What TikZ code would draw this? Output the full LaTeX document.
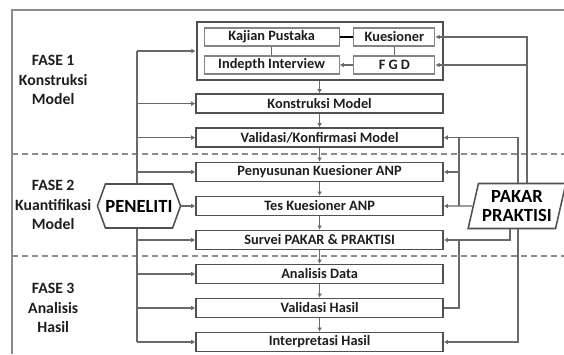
\documentclass[tikz,border=0pt]{standalone}
\usepackage{fontspec}
\setmainfont{Carlito}
\usepackage{tikz}
\usetikzlibrary{arrows.meta,shapes.geometric,shapes.symbols}
\definecolor{framec}{RGB}{140,140,140}
\definecolor{linec}{RGB}{105,105,105}
\definecolor{boxc}{RGB}{80,80,80}
\definecolor{textc}{RGB}{30,30,30}

\begin{document}
\begin{tikzpicture}[x=1cm,y=1cm,font=\fontsize{10.2}{12}\selectfont\bfseries,
    stepbox/.style={draw=boxc,line width=1.1pt,fill=white,text=textc,minimum width=6.17cm,minimum height=0.475cm,inner sep=0pt},
    subbox/.style={draw=boxc!70,line width=0.8pt,fill=white,text=textc,minimum height=0.45cm,inner sep=0pt},
    phase/.style={text=textc,align=center,font=\fontsize{11.2}{13.9}\selectfont\bfseries},
    conn/.style={linec,line width=1pt},
    arr/.style={conn,-{Latex[length=3pt,width=3.4pt]}}]
  \useasboundingbox (0,0) rectangle (14.1,8.85);
  % ---- frame + phase borders ----
  \draw[framec,line width=1.4pt] (0.3,0) -- (0.3,8.6) -- (14.1,8.6);
  \draw[framec,line width=1.4pt,dash pattern=on 4.3pt off 2.8pt]
      (0.3,5.0) -- (14.1,5.0)  (0.3,2.45) -- (14.1,2.45);
  % ---- phase labels ----
  \node[phase] (fase1) at (1.33,6.85) {FASE 1\\Konstruksi\\Model};
  \node[phase] (fase2) at (1.33,3.725) {FASE 2\\Kuantifikasi\\Model};
  \node[phase] (fase3) at (1.33,1.15) {FASE 3\\Analisis\\Hasil};
  % ---- model construction group ----
  \node[draw=boxc,line width=1.3pt,fill=white,minimum width=6.15cm,minimum height=1.45cm] (grp) at (7.99,7.575) {};
  \node[subbox,minimum width=3.375cm] (kajian) at (6.79,7.925) {Kajian Pustaka};
  \node[subbox,minimum width=2.025cm] (kues) at (9.86,7.925) {Kuesioner};
  \node[subbox,minimum width=3.375cm] (indepth) at (6.79,7.225) {Indepth Interview};
  \node[subbox,minimum width=2.025cm] (fgd) at (9.86,7.225) {F G D};
  \draw[black,line width=2pt] (kajian) -- (kues);
  \draw[conn,line width=0.6pt] (kajian) -- (indepth);
  \draw[conn,line width=0.6pt] (kues) -- (fgd);
  \draw[arr] (fgd) -- (indepth);
  % ---- steps ----
  \node[stepbox] (konst) at (7.99,6.26) {Konstruksi Model};
  \node[stepbox] (valk) at (7.99,5.41) {Validasi/Konfirmasi Model};
  \node[stepbox] (peny) at (7.99,4.55) {Penyusunan Kuesioner ANP};
  \node[stepbox] (tes) at (7.99,3.70) {Tes Kuesioner ANP};
  \node[stepbox] (survei) at (7.99,2.85) {Survei PAKAR \& PRAKTISI};
  \node[stepbox] (anal) at (7.99,2.00) {Analisis Data};
  \node[stepbox] (valh) at (7.99,1.15) {Validasi Hasil};
  \node[stepbox] (interp) at (7.99,0.30) {Interpretasi Hasil};
  \foreach \a/\b in {grp/konst,konst/valk,valk/peny,peny/tes,tes/survei,survei/anal,anal/valh,valh/interp}
    \draw[arr] (\a) -- (\b);
  % ---- researcher ----
  \coordinate (sp) at (3.425,0);
  \draw[conn] (grp.west -| sp) -- (interp.west -| sp);
  \foreach \b in {grp,konst,valk,peny,tes,survei,anal,valh,interp}
    \draw[arr] (\b.west -| sp) -- (\b.west);
  \node[signal,signal to=east and west,signal pointer angle=140,draw=boxc,line width=1.1pt,fill=white,
        minimum width=1.95cm,minimum height=1.1cm,inner sep=0pt,font=\fontsize{13.2}{14}\selectfont\bfseries]
      (peneliti) at (3.475,3.7) {PENELITI};
  % ---- experts & practitioners ----
  \node[trapezium,trapezium left angle=73,trapezium right angle=107,trapezium stretches=true,
        draw=boxc,line width=1.1pt,fill=white,minimum width=2.45cm,minimum height=1.125cm,inner sep=0pt,
        align=center,font=\fontsize{13.2}{13}\selectfont\bfseries] (pakar) at (12.925,3.7) {PAKAR\\PRAKTISI};
  \coordinate (ax) at (13.175,0);
  \coordinate (bx) at (12.95,0);
  \coordinate (cx) at (11.475,0);
  \coordinate (dx) at (12.75,0);
  \draw[arr] (pakar.north -| ax) |- (kues.east);
  \draw[arr] (fgd.east -| ax) -- (fgd.east);
  \draw[arr] (pakar.north -| bx) |- (valk.east);
  \draw[arr] (pakar.south -| bx) |- (interp.east);
  \draw[arr] (pakar.west) -- (tes.east);
  \draw[arr] (tes.east -| cx) |- (valk.east);
  \draw[arr] (peny.east -| cx) -- (peny.east);
  \draw[arr] (pakar.south -| dx) |- (survei.east);
  \draw[conn] (survei.east -| cx) |- (valh.east);
\end{tikzpicture}
\end{document}
